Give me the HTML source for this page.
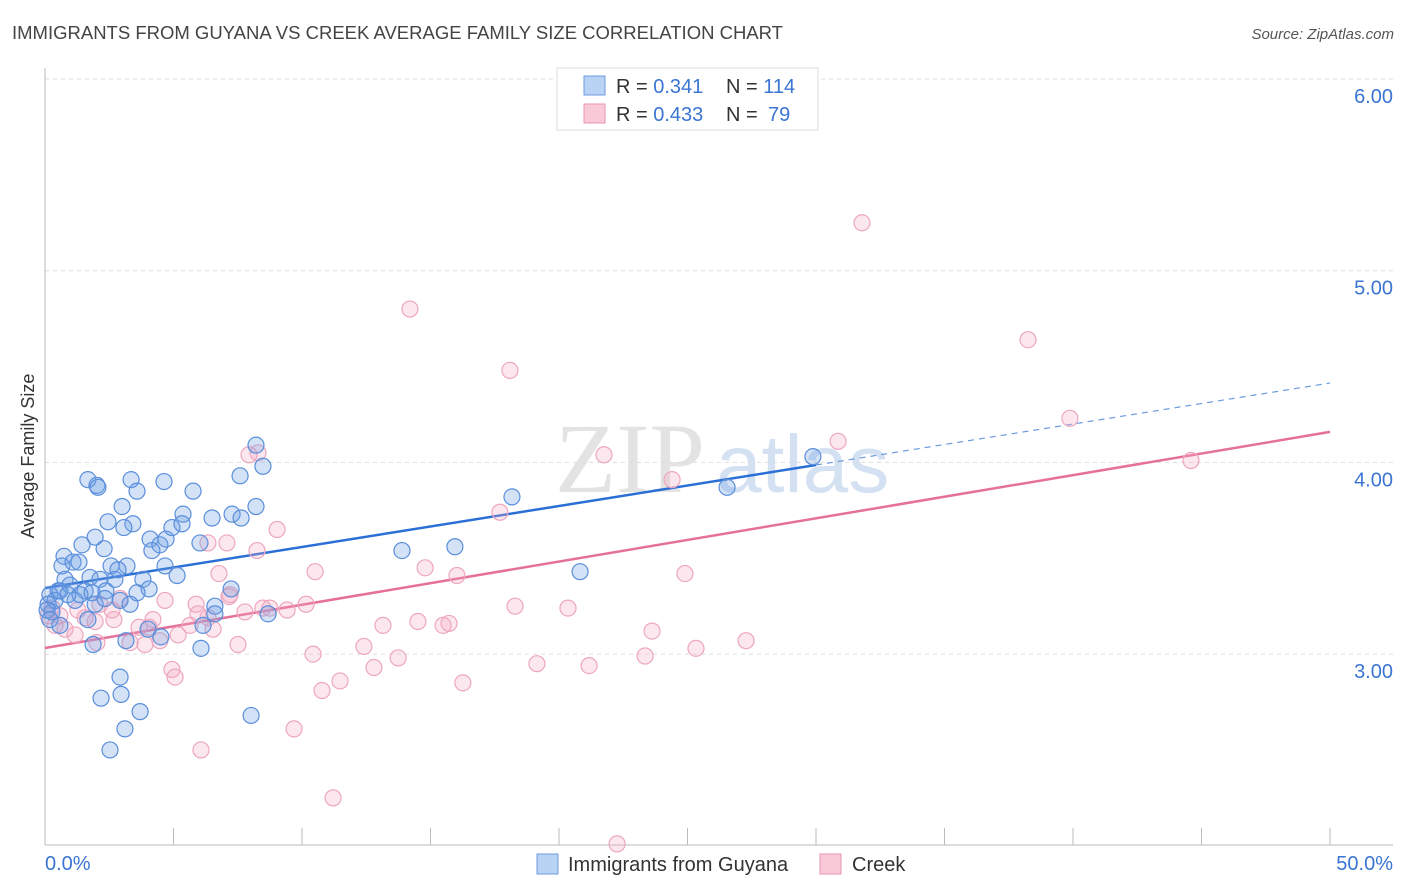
<!DOCTYPE html>
<html><head><meta charset="utf-8">
<style>
body{margin:0;background:#fff;font-family:"Liberation Sans",sans-serif;}
svg{display:block}
</style></head>
<body>
<svg id="chart" width="1406" height="892">
<text x="12" y="39" font-size="18.5" fill="#444">IMMIGRANTS FROM GUYANA VS CREEK AVERAGE FAMILY SIZE CORRELATION CHART</text>
<text x="1394" y="39" font-size="15" fill="#555" font-style="italic" text-anchor="end">Source: ZipAtlas.com</text>
<text transform="translate(34,456) rotate(-90)" font-size="18" fill="#333" text-anchor="middle">Average Family Size</text>
<g>
<text x="555" y="492" font-size="100" fill="#d8d8d8" font-family="Liberation Serif,serif" opacity="0.7">ZIP</text>
<text x="716" y="492" font-size="82" fill="#a8c4e8" opacity="0.5">atlas</text>
</g>
<g id="grid"></g><g id="axes"></g><g id="trend"></g><g id="pts"></g>
<g>
<rect x="557" y="68" width="261" height="62" fill="#fff" stroke="#ddd"/>
<rect x="584" y="76" width="21" height="19" fill="#b9d3f5" stroke="#6d9be0"/>
<rect x="584" y="104" width="21" height="19" fill="#f9c9d7" stroke="#e896b2"/>
<text x="616" y="93" font-size="20" fill="#333">R = <tspan fill="#3a75d4">0.341</tspan><tspan x="726">N = </tspan><tspan fill="#3a75d4">114</tspan></text>
<text x="616" y="121" font-size="20" fill="#333">R = <tspan fill="#3a75d4">0.433</tspan><tspan x="726">N = </tspan><tspan fill="#3a75d4" x="768">79</tspan></text>
</g>
<g>
<rect x="537" y="854" width="21" height="20" fill="#b9d3f5" stroke="#6d9be0"/>
<text x="568" y="871" font-size="20" fill="#333">Immigrants from Guyana</text>
<rect x="820" y="854" width="21" height="20" fill="#f9c9d7" stroke="#e896b2"/>
<text x="852" y="871" font-size="20" fill="#333">Creek</text>
</g>
</svg>
<script>
const yTicks=[3,4,5,6];
const yTickLabels=["3.00","4.00","5.00","6.00"];
const xTickLabels=["0.0%","50.0%"];
const blueX=[1.67,2.02,2.06,3.35,3.58,4.63,5.76,3.00,2.45,3.42,3.07,1.95,1.44,0.74,2.30,4.09,4.47,4.71,4.94,5.37,5.33,6.50,7.28,7.63,8.21,7.59,8.48,8.21,6.03,4.16,2.57,3.19,3.81,4.05,4.67,5.14,0.66,1.09,1.32,1.75,2.14,2.72,2.84,2.37,3.58,2.92,3.31,1.56,0.97,0.78,0.51,0.19,0.12,0.27,0.39,1.17,1.36,1.83,0.58,0.89,1.95,0.08,7.24,6.61,6.15,6.61,8.68,6.07,4.01,4.51,3.15,1.87,2.92,2.96,2.18,3.70,3.11,2.53,8.02,13.89,15.95,18.17,20.82,26.54,29.88,1.67,2.33,0.19,0.58];
const blueY=[3.91,3.88,3.87,3.91,3.85,3.90,3.85,3.77,3.69,3.68,3.66,3.61,3.57,3.51,3.55,3.60,3.57,3.60,3.66,3.73,3.68,3.71,3.73,3.71,3.77,3.93,3.98,4.09,3.58,3.54,3.46,3.46,3.39,3.34,3.46,3.41,3.46,3.48,3.48,3.40,3.39,3.39,3.44,3.33,3.32,3.28,3.26,3.33,3.36,3.39,3.33,3.31,3.26,3.22,3.28,3.28,3.31,3.32,3.33,3.31,3.26,3.23,3.34,3.25,3.15,3.21,3.21,3.03,3.13,3.09,3.07,3.05,2.88,2.79,2.77,2.70,2.61,2.50,2.68,3.54,3.56,3.82,3.43,3.87,4.03,3.18,3.29,3.18,3.15];
const pinkX=[31.79,14.20,18.09,38.25,39.88,30.86,44.59,21.75,24.40,17.70,8.29,7.94,6.34,7.08,8.25,9.03,6.77,10.51,14.79,16.03,24.90,18.29,20.35,14.51,15.49,15.72,13.15,23.62,27.28,25.33,12.41,10.43,13.74,23.35,19.14,21.17,12.80,11.48,10.78,16.26,9.69,6.07,11.21,22.26,5.06,2.02,3.31,3.89,4.47,5.18,5.64,6.54,7.51,6.34,7.16,7.78,8.48,8.75,9.42,10.16,5.88,4.67,4.05,4.20,3.66,2.68,1.95,1.56,1.28,0.58,0.39,0.78,1.17,0.12,0.27,2.14,2.61,2.92,7.20,5.95,4.94];
const pinkY=[5.25,4.80,4.48,4.64,4.23,4.11,4.01,4.04,3.91,3.74,4.05,4.04,3.58,3.58,3.54,3.65,3.42,3.43,3.45,3.41,3.42,3.25,3.24,3.17,3.15,3.16,3.15,3.12,3.07,3.03,3.04,3.00,2.98,2.99,2.95,2.94,2.93,2.86,2.81,2.85,2.61,2.50,2.25,2.01,2.88,3.06,3.06,3.05,3.07,3.10,3.15,3.13,3.05,3.19,3.30,3.22,3.24,3.24,3.23,3.26,3.26,3.28,3.14,3.18,3.14,3.18,3.17,3.19,3.23,3.20,3.15,3.13,3.10,3.20,3.24,3.26,3.23,3.29,3.31,3.21,2.92];
const blueTrend=[3.345,4.414];
const pinkTrend=[3.032,4.159];

const NS="http://www.w3.org/2000/svg";
const xs=v=>45+v*(1285/50);
const ys=v=>79+(6-v)*191.7;
function mk(parent,tag,attrs){const e=document.createElementNS(NS,tag);for(const k in attrs)e.setAttribute(k,attrs[k]);document.getElementById(parent).appendChild(e);return e;}

yTicks.forEach((t,i)=>{
  const g=mk('grid','line',{x1:45,x2:1393,y1:ys(t),y2:ys(t),stroke:'#ddd','stroke-dasharray':'4,4'});
  
  
  const l=mk('axes','text',{x:1393,y:ys(t)+24,'font-size':20,fill:'#3a75d4','text-anchor':'end'});
  l.textContent=yTickLabels[i];
  
  
});
let a=mk('axes','line',{x1:45,x2:45,y1:68,y2:845,stroke:'#bbb'});


a=mk('axes','line',{x1:45,x2:1393,y1:845,y2:845,stroke:'#bbb'});


for(let i=0;i<=10;i++){
  const t=mk('axes','line',{x1:xs(i*5),x2:xs(i*5),y1:828,y2:845,stroke:'#bbb'});
  
  
}
[[0,'start',45],[50,'end',1393]].forEach((d,i)=>{
  const l=mk('axes','text',{x:d[2],y:870,'font-size':20,fill:'#3a75d4','text-anchor':d[1]});
  l.textContent=xTickLabels[i];
  
  
});
function pts(X,Y,fill,stroke,name){
  X.forEach((x,i)=>{
    const c=mk('pts','circle',{cx:xs(x),cy:ys(Y[i]),r:8,fill:fill,stroke:stroke,'stroke-width':1.2});
    
    
  });
}
pts(pinkX,pinkY,'rgba(244,170,195,0.28)','#eda6bf','creek-point');
pts(blueX,blueY,'rgba(110,160,230,0.3)','#5a8edb','guyana-point');
const bm=blueTrend[0]+(blueTrend[1]-blueTrend[0])*30/50;
let t=mk('trend','line',{x1:xs(0),y1:ys(blueTrend[0]),x2:xs(30),y2:ys(bm),stroke:'#2a6fd6','stroke-width':2.5});


t=mk('trend','line',{x1:xs(30),y1:ys(bm),x2:xs(50),y2:ys(blueTrend[1]),stroke:'#6a9be0','stroke-width':1.2,'stroke-dasharray':'6,5'});


t=mk('trend','line',{x1:xs(0),y1:ys(pinkTrend[0]),x2:xs(50),y2:ys(pinkTrend[1]),stroke:'#e5709a','stroke-width':2.5});


</script>
</body></html>
